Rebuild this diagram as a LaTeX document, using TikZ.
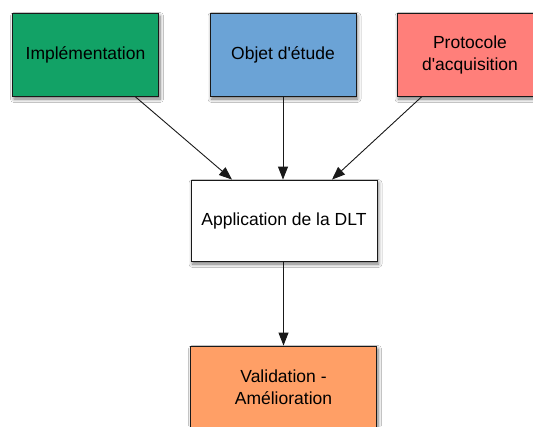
\documentclass[tikz,border=0pt]{standalone}
\usepackage{fontspec}
\setmainfont{Liberation Sans}[Ligatures=TeXOff]
\usetikzlibrary{arrows.meta,shadows.blur}
\definecolor{implgreen}{RGB}{18,162,102}
\definecolor{objblue}{RGB}{107,163,214}
\definecolor{protred}{RGB}{255,127,122}
\definecolor{valorange}{RGB}{255,159,102}
\definecolor{edgegray}{RGB}{25,25,25}
\tikzset{
  stagebox/.style={draw=edgegray, line width=0.9pt, rectangle, align=center,
    minimum width=146pt, minimum height=83pt, inner sep=0pt,
    font=\fontsize{17.5}{22}\selectfont,
    blur shadow={shadow xshift=1.5pt, shadow yshift=-3pt, shadow blur steps=6,
      shadow blur radius=3.5pt, shadow opacity=55}},
  widebox/.style={stagebox, minimum width=186pt, minimum height=81pt},
  flow/.style={draw=edgegray, line width=0.9pt, -{Triangle[length=13pt,width=10pt]}}
}
\begin{document}
\begin{tikzpicture}[x=1pt,y=-1pt]
\clip (0,0) rectangle (533,426);
\fill[white] (0,0) rectangle (533,426);
\node[stagebox, fill=implgreen] (impl) at (85.5,54.5) {Implémentation};
\node[stagebox, fill=objblue] (obj) at (283,54.5) {Objet d'étude};
\node[stagebox, fill=protred] (prot) at (470,54.5) {Protocole\\d'acquisition};
\node[widebox, fill=white] (app) at (284,220.5) {Application de la DLT};
\node[widebox, fill=valorange, minimum height=83pt] (val) at (283.5,387.5) {Validation -\\Amélioration};
\draw[flow] ([xshift=49.5pt]impl.south) -- ([xshift=-52pt]app.north);
\draw[flow] (obj.south) -- (obj.south |- app.north);
\draw[flow] ([xshift=-48pt]prot.south) -- ([xshift=48pt]app.north);
\draw[flow] (app.south -| val.north) -- (val.north);
\end{tikzpicture}
\end{document}
